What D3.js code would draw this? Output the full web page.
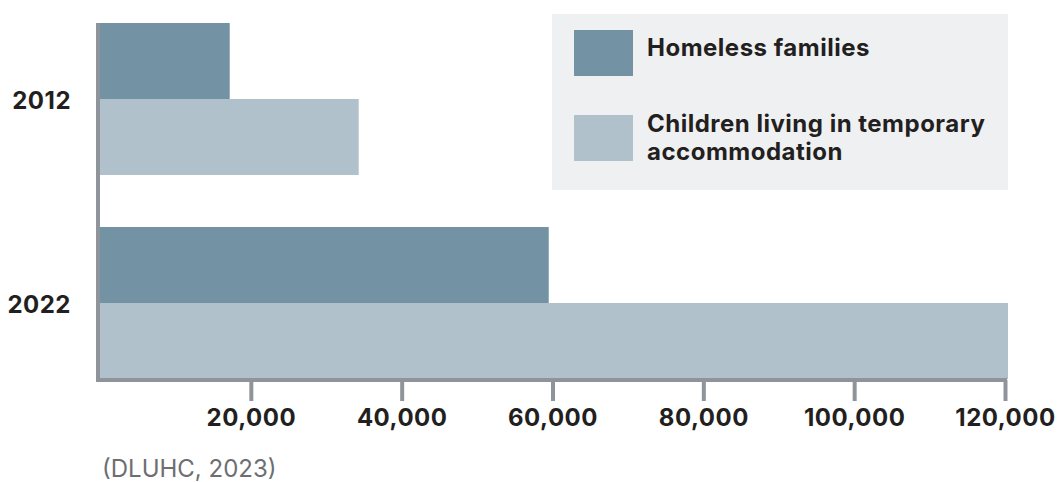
<!DOCTYPE html>
<html>
<head>
<meta charset="utf-8">
<script src="https://cdn.jsdelivr.net/npm/d3@7"></script>
<style>
body { margin: 0; background: #fff; }
text { font-family: Inter, "DejaVu Sans", sans-serif; }
</style>
</head>
<body>
<svg id="chart" width="1059" height="482"></svg>
<script>
// data
var years = ["2012", "2022"];
var series = ["Homeless families", "Children living in temporary accommodation"];
var homeless = [17200, 59500];
var children = [34300, 120400];
var ticks = [20000, 40000, 60000, 80000, 100000, 120000];
var colours = ["#7393a5", "#b0c1cb"];

var rows = years.map(function (y, i) {
	return { year: y, values: [homeless[i], children[i]] };
});

var svg = d3.select("#chart");

var x = d3.scaleLinear()
	.domain([0, 120000])
	.range([100, 1005]);

var y = d3.scaleBand()
	.domain(years)
	.range([23, 379])
	.paddingInner(0.255)
	.paddingOuter(0);

var sub = d3.scaleBand()
	.domain(series)
	.range([0, y.bandwidth()]);

// bars
rows.forEach(function (row) {
	row.values.forEach(function (v, j) {
		svg.append("rect")
		.attr("x", x(0))
		.attr("y", y(row.year) + sub(series[j]))
		.attr("width", x(v) - x(0))
		.attr("height", sub.bandwidth())
		.attr("fill", colours[j]);
	});
});

// y axis line
svg.append("line")
	.attr("x1", 98).attr("x2", 98)
	.attr("y1", 23).attr("y2", 382)
	.attr("stroke", "#8e9499")
	.attr("stroke-width", 4);

// x axis
var xAxis = svg.append("g")
	.attr("transform", "translate(0,380)")
	.call(d3.axisBottom(x)
		.tickValues(ticks)
		.tickSize(21)
		.tickPadding(8)
		.tickFormat(d3.format(",")));
xAxis.select(".domain").remove();
xAxis.selectAll(".tick line")
	.attr("stroke", "#8e9499")
	.attr("stroke-width", 4);
xAxis.selectAll(".tick text")
	.attr("fill", "#231f20")
	.attr("font-size", 24)
	.attr("font-weight", 700)
	.attr("letter-spacing", 0.5)
	.style("font-family", "Inter, sans-serif");
svg.append("line")
	.attr("x1", 96).attr("x2", 1007)
	.attr("y1", 380).attr("y2", 380)
	.attr("stroke", "#8e9499")
	.attr("stroke-width", 4);

// year labels
years.forEach(function (yr) {
	svg.append("text")
	.text(yr)
	.attr("x", 71)
	.attr("y", y(yr) + y.bandwidth() / 2 + 10)
	.attr("text-anchor", "end")
	.attr("font-size", 24)
	.attr("font-weight", 700)
	.attr("letter-spacing", 0.5)
	.attr("fill", "#231f20");
});

// legend
svg.append("rect")
	.attr("x", 552).attr("y", 14)
	.attr("width", 456).attr("height", 176)
	.attr("fill", "#eff0f2");

var legendRows = [
	{ swatchY: 30, lines: ["Homeless families"], baseY: 56 },
	{ swatchY: 115, lines: ["Children living in temporary", "accommodation"], baseY: 132 }
];
legendRows.forEach(function (r, i) {
	svg.append("rect")
	.attr("x", 574).attr("y", r.swatchY)
	.attr("width", 59).attr("height", 46)
	.attr("fill", colours[i]);
	r.lines.forEach(function (ln, k) {
		svg.append("text")
		.text(ln)
		.attr("x", 647)
		.attr("y", r.baseY + k * 28)
		.attr("font-size", 24)
		.attr("font-weight", 700)
		.attr("letter-spacing", 0.5)
		.attr("fill", "#231f20");
	});
});

// source
svg.append("text")
	.text("(DLUHC, 2023)")
	.attr("x", 102)
	.attr("y", 477)
	.attr("font-size", 24)
	.attr("fill", "#6d6e71");
</script>
</body>
</html>
